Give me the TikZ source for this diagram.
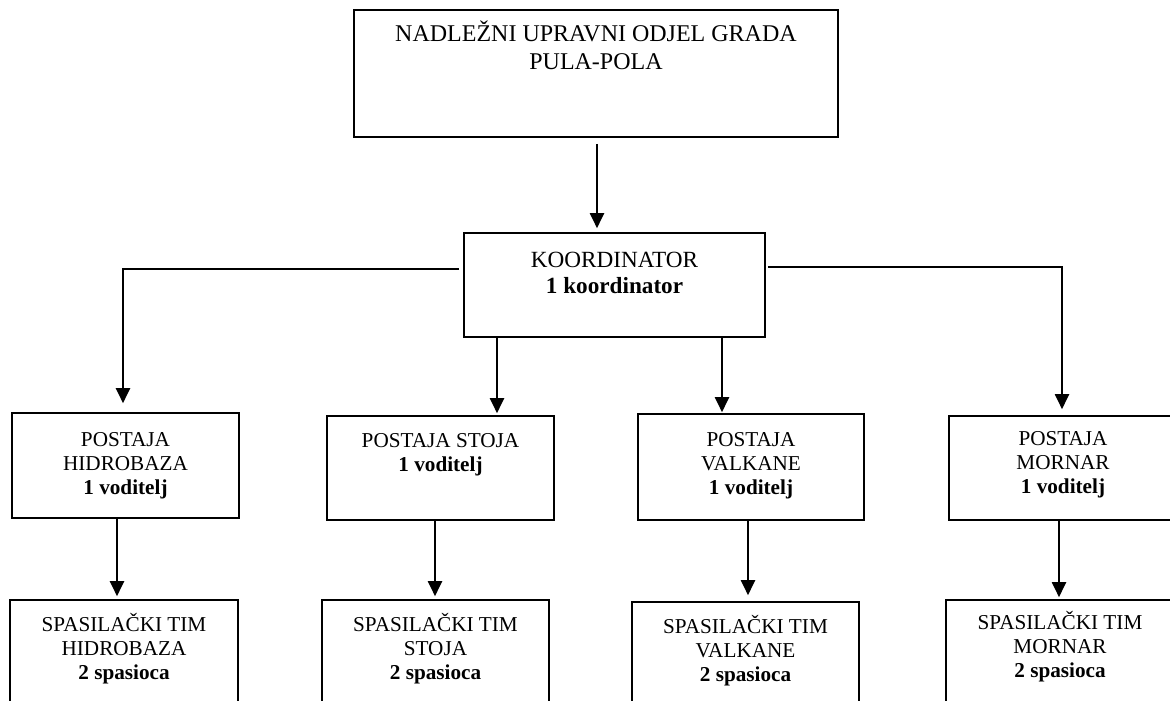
\documentclass[tikz,border=0pt]{standalone}
\usepackage{fontspec}
\setmainfont{Liberation Serif}
\usetikzlibrary{arrows.meta}
% #1 width, #2 height, #3 first baseline, #4 font size, #5 line skip, #6 text
\newcommand{\bxt}[6]{\parbox[t][#2pt][t]{#1pt}{\centering\fontsize{#4}{#5}\selectfont\rule{0pt}{#3pt}#6\par}}
\tikzset{
  box/.style={draw, line width=1.6pt, inner sep=0pt, anchor=center},
  arr/.style={line width=2pt, -{Triangle[width=14pt,length=15pt]}}
}
\begin{document}
\begin{tikzpicture}[x=1pt,y=-1pt]
\useasboundingbox (0,0) rectangle (1170,701);
\clip (0,0) rectangle (1170,701);
\fill[white] (0,0) rectangle (1170,701);

\node[box] (top) at (596,73.5) {\bxt{484}{127}{32}{24}{28}{NADLEŽNI UPRAVNI ODJEL GRADA\\PULA-POLA}};
\node[box] (koord) at (614.5,285) {\bxt{301}{104}{34}{23.2}{26.5}{KOORDINATOR\\\textbf{1 koordinator}}};

\node[box] (hidro) at (125.5,465.5) {\bxt{227}{105}{33}{21.2}{24}{POSTAJA\\HIDROBAZA\\\textbf{1 voditelj}}};
\node[box] (stoja) at (440.5,468) {\bxt{227}{104}{31}{21.2}{24}{POSTAJA STOJA\\\textbf{1 voditelj}}};
\node[box] (valk) at (751,467) {\bxt{226}{106}{32}{21.2}{24}{POSTAJA\\VALKANE\\\textbf{1 voditelj}}};
\node[box] (morn) at (1063,468) {\bxt{228}{104}{29}{21.2}{24}{POSTAJA\\MORNAR\\\textbf{1 voditelj}}};

\node[box] (shidro) at (124,670) {\bxt{228}{140}{31}{21.2}{24}{SPASILAČKI TIM\\HIDROBAZA\\\textbf{2 spasioca}}};
\node[box] (sstoja) at (435.5,670) {\bxt{227}{140}{31}{21.2}{24}{SPASILAČKI TIM\\STOJA\\\textbf{2 spasioca}}};
\node[box] (svalk) at (745.5,672) {\bxt{227}{140}{31.5}{21.2}{24}{SPASILAČKI TIM\\VALKANE\\\textbf{2 spasioca}}};
\node[box] (smorn) at (1060,670) {\bxt{228}{140}{29}{21.2}{24}{SPASILAČKI TIM\\MORNAR\\\textbf{2 spasioca}}};

\draw[arr] ([xshift=1pt,yshift=-6pt]top.south) -- ([xshift=-17.5pt,yshift=4pt]koord.north);
\draw[arr] ([xshift=-4pt,yshift=16pt]koord.west) -| ([xshift=-2.5pt,yshift=9pt]hidro.north);
\draw[arr] ([xshift=-117.5pt]koord.south) -- ([xshift=56.5pt,yshift=2pt]stoja.north);
\draw[arr] ([xshift=107.5pt]koord.south) -- ([xshift=-29pt,yshift=1pt]valk.north);
\draw[arr] ([xshift=2pt,yshift=18pt]koord.east) -| ([xshift=-1pt,yshift=6pt]morn.north);

\draw[arr] ([xshift=-8.5pt]hidro.south) -- ([xshift=-7pt,yshift=3pt]shidro.north);
\draw[arr] ([xshift=-5.5pt]stoja.south) -- ([xshift=-0.5pt,yshift=3pt]sstoja.north);
\draw[arr] ([xshift=-3pt]valk.south) -- ([xshift=2.5pt,yshift=6pt]svalk.north);
\draw[arr] ([xshift=-4pt]morn.south) -- ([xshift=-1pt,yshift=2pt]smorn.north);
\end{tikzpicture}
\end{document}
